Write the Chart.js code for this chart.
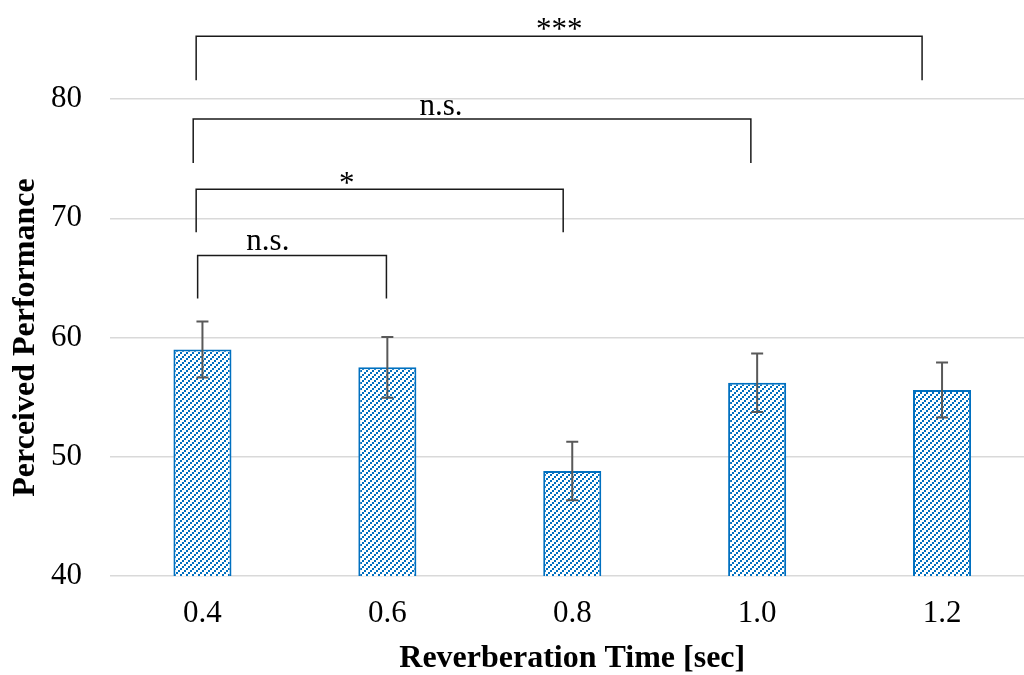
<!DOCTYPE html>
<html>
<head>
<meta charset="utf-8">
<script src="https://cdn.jsdelivr.net/npm/chart.js@4/dist/chart.umd.min.js"></script>
<style>
  html, body { margin: 0; padding: 0; background: #fff; overflow: hidden; }
  #wrap { width: 1040px; height: 675px; }
</style>
</head>
<body>
<div id="wrap"><canvas id="c" width="1040" height="675"></canvas></div>
<script>
// ---- data ----
const categories = ['0.4', '0.6', '0.8', '1.0', '1.2'];
const meanValues = [59.0, 57.5, 48.8, 56.2, 55.6];
const sdValues = [2.35, 2.55, 2.45, 2.45, 2.3];
const yTicks = [40, 50, 60, 70, 80];

// significance brackets (x in category-index units, y in axis units)
const bracketStart = [-0.026, -0.034, -0.050, -0.034];
const bracketEnd = [0.995, 1.951, 2.966, 3.892];
const bracketTop = [66.88, 72.44, 78.33, 85.26];
const bracketBottom = [63.28, 68.83, 74.64, 81.57];
const bracketLabels = ['n.s.', '*', 'n.s.', '***'];
const bracketLabelX = [0.354, 0.78, 1.29, 1.93];
const bracketLabelY = [67.33, 72.1, 78.64, 85.0];

// ---- hatch pattern ----
function makePattern() {
  const t = document.createElement('canvas');
  t.width = 6; t.height = 6;
  const g = t.getContext('2d');
  g.fillStyle = '#ffffff';
  g.fillRect(0, 0, 6, 6);
  g.fillStyle = '#0070C0';
  g.fillRect(4, 0, 2, 2);
  g.fillRect(2, 2, 2, 2);
  g.fillRect(0, 4, 2, 2);
  return document.getElementById('c').getContext('2d').createPattern(t, 'repeat');
}

const serif = "'Liberation Serif', 'Times New Roman', serif";

const overlayPlugin = {
  id: 'overlay',
  afterDatasetsDraw(chart) {
    const ctx = chart.ctx;
    const xs = chart.scales.x, ys = chart.scales.y;
    ctx.save();
    ctx.strokeStyle = '#595959';
    ctx.lineWidth = 2;
    meanValues.forEach((m, i) => {
      const x = xs.getPixelForValue(i);
      const yt = ys.getPixelForValue(m + sdValues[i]);
      const yb = ys.getPixelForValue(m - sdValues[i]);
      ctx.beginPath();
      ctx.moveTo(x, yt); ctx.lineTo(x, yb);
      ctx.moveTo(x - 6, yt); ctx.lineTo(x + 6, yt);
      ctx.moveTo(x - 6, yb); ctx.lineTo(x + 6, yb);
      ctx.stroke();
    });
    ctx.restore();
  },
  afterDraw(chart) {
    const ctx = chart.ctx;
    const xs = chart.scales.x, ys = chart.scales.y;
    ctx.save();
    ctx.strokeStyle = '#1a1a1a';
    ctx.lineWidth = 1.5;
    ctx.fillStyle = '#000';
    ctx.font = '31px ' + serif;
    ctx.textAlign = 'center';
    ctx.textBaseline = 'alphabetic';
    bracketLabels.forEach((lab, i) => {
      const x1 = xs.getPixelForValue(bracketStart[i]);
      const x2 = xs.getPixelForValue(bracketEnd[i]);
      const yt = ys.getPixelForValue(bracketTop[i]);
      const yb = ys.getPixelForValue(bracketBottom[i]);
      ctx.beginPath();
      ctx.moveTo(x1, yb); ctx.lineTo(x1, yt); ctx.lineTo(x2, yt); ctx.lineTo(x2, yb);
      ctx.stroke();
      ctx.fillText(lab, xs.getPixelForValue(bracketLabelX[i]), ys.getPixelForValue(bracketLabelY[i]));
    });
    ctx.restore();
  }
};

new Chart(document.getElementById('c'), {
  type: 'bar',
  data: {
    labels: categories,
    datasets: [{
      data: meanValues,
      backgroundColor: makePattern(),
      borderColor: '#0070C0',
      borderWidth: 2,
      borderSkipped: false,
      categoryPercentage: 1,
      barPercentage: 0.314
    }]
  },
  options: {
    responsive: false,
    animation: false,
    layout: { padding: { top: 99, right: 5.5, bottom: 0, left: 0 } },
    plugins: { legend: { display: false }, tooltip: { enabled: false } },
    scales: {
      x: {
        grid: { display: false, drawTicks: false },
        border: { display: false },
        ticks: { color: '#000', font: { family: serif, size: 31 }, padding: 19 },
        title: { display: true, text: 'Reverberation Time [sec]', color: '#000',
                 font: { family: serif, size: 32, weight: 'bold', lineHeight: 1.0 }, padding: { top: 0, bottom: 0 } },
        afterFit: (s) => { s.height = 99; }
      },
      y: {
        min: 40, max: 80,
        afterBuildTicks: (s) => { s.ticks = yTicks.map(v => ({ value: v })); },
        grid: { color: '#D9D9D9', lineWidth: 1.5, drawTicks: false },
        border: { display: false },
        ticks: { color: '#000', font: { family: serif, size: 31 }, padding: 28 },
        title: { display: true, text: 'Perceived Performance', color: '#000',
                 font: { family: serif, size: 32, weight: 'bold', lineHeight: 1.0 }, padding: { top: 10, bottom: 0 } },
        afterFit: (s) => { s.width = 110; }
      }
    }
  },
  plugins: [overlayPlugin]
});
</script>
</body>
</html>
